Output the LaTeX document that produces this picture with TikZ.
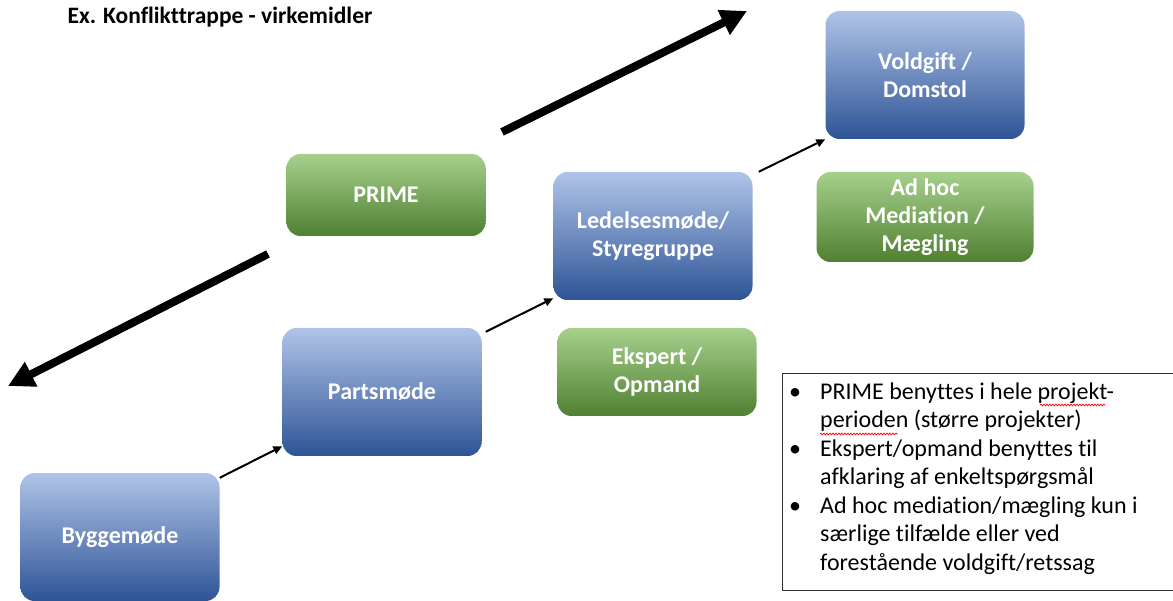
\documentclass[tikz,border=0pt]{standalone}
\usepackage{fontspec}
\setmainfont[Ligatures = NoCommon]{Carlito}
\usepackage{tikz}
\usetikzlibrary{arrows.meta, positioning, shadings, decorations.pathmorphing}
\definecolor{stagetop}{RGB}{176,196,232}
\definecolor{stagemid}{RGB}{140,166,216}
\definecolor{stagebot}{RGB}{46,84,150}
\definecolor{tooltop}{RGB}{166,208,140}
\definecolor{toolmid}{RGB}{112,173,71}
\definecolor{toolbot}{RGB}{80,128,50}
\tikzstyle{stage} = [rectangle, rounded corners = 14pt, draw = none, top color = stagetop, middle color = stagemid, bottom color = stagebot, minimum width = 199pt, minimum height = 128pt, text = white, align = center, font = \fontsize{24}{28}\selectfont\bfseries]
\tikzstyle{tool} = [stage, top color = tooltop, middle color = toolmid, bottom color = toolbot, minimum height = 88pt]
\tikzstyle{next} = [-{Triangle[length = 9pt, width = 8pt]}, line width = 2pt]
\tikzstyle{trend} = [-{Triangle[length = 26pt, width = 26pt]}, line width = 8pt]
\tikzstyle{spell} = [red, line width = 0.7pt, decorate, decoration = {snake, amplitude = 0.9pt, segment length = 3pt}]

\begin{document}
\begin{tikzpicture}[x = 1pt, y = -1pt, node distance = 136pt]
        \useasboundingbox (0,0) rectangle (1173,601);
        % title
        \node[anchor = west, font = \fontsize{23.5}{26}\selectfont\bfseries] (title) at (64,17) {Ex. Konflikttrappe - virkemidler};
        % draw the steps
        \node[stage] (bygg) at (120,537) {Byggemøde};
        \node[stage] (parts) at (382,392) {Partsmøde};
        \node[stage] (ledelse) at (653,236) {Ledelsesmøde/\\Styregruppe};
        \node[stage] (vold) at (925,75) {Voldgift /\\Domstol};
        % draw the tools beside the steps
        \node[tool, minimum height = 82pt] (prime) at (386,195) {PRIME};
        \node[tool] (ekspert) [below of = ledelse, xshift = 4pt] {Ekspert /\\Opmand};
        \node[tool, minimum width = 217pt, minimum height = 90pt] (adhoc) [below of = vold, node distance = 142pt] {Ad hoc\\Mediation /\\Mægling};
        % draw arrows between steps
        \draw[next] ([yshift = -5pt]bygg.north east) -- ([yshift = 10pt]parts.south west);
        \draw[next] ([xshift = 4pt, yshift = -4pt]parts.north east) -- ([yshift = 2pt]ledelse.south west);
        \draw[next] ([xshift = 6pt]ledelse.north east) -- (vold.south west);
        % draw the two big arrows
        \coordinate (upstart) at (502,132);
        \coordinate (upend) at (747,11);
        \coordinate (downstart) at (268,254);
        \coordinate (downend) at (8,386);
        \draw[trend] (upstart) -- (upend);
        \draw[trend] (downstart) -- (downend);
        % draw the note
        \node[draw = black!80, line width = 1pt, rectangle, minimum width = 391pt, minimum height = 217pt, anchor = north west, inner sep = 0pt] (note) at (782,373) {};
        \node[anchor = north west, inner sep = 0pt, font = \fontsize{24}{28.5}\selectfont] (notetext) at (789,379)
        {\begin{tabular}{@{}p{31pt}@{}l@{}}
          \textbullet & PRIME benyttes i hele projekt-\\
                      & perioden (større projekter)\\
          \textbullet & Ekspert/opmand benyttes til\\
                      & afklaring af enkeltspørgsmål\\
          \textbullet & Ad hoc mediation/mægling kun i\\
                      & særlige tilfælde eller ved\\
                      & forestående voldgift/retssag
        \end{tabular}};
        \draw[spell] (1040,405) -- (1105,405);
        \draw[spell] (820,434) -- (898,434);
    \end{tikzpicture}
\end{document}
